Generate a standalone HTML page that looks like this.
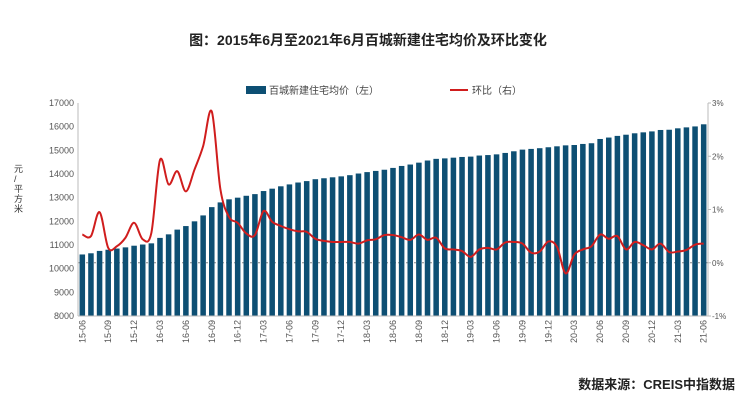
<!DOCTYPE html>
<html><head><meta charset="utf-8"><style>
body{margin:0;background:#fff;}
svg{display:block;font-family:"Liberation Sans","Noto Sans CJK SC",sans-serif;}
</style></head><body>
<svg id="chart" width="740" height="409" viewBox="0 0 740 409">
<text x="368" y="45" text-anchor="middle" font-size="14" font-weight="bold" fill="#222">图：2015年6月至2021年6月百城新建住宅均价及环比变化</text>
<g>
<rect x="246" y="86" width="20" height="8" fill="#0d4f73"/>
<text x="269" y="94" font-size="10" fill="#444">百城新建住宅均价（左）</text>
<line x1="450" y1="90" x2="468" y2="90" stroke="#d01d1d" stroke-width="2"/>
<text x="472" y="94" font-size="10" fill="#444">环比（右）</text>
</g>
<text font-size="9" fill="#333"><tspan x="14" y="172">元</tspan><tspan x="14" y="182">/</tspan><tspan x="14" y="192">平</tspan><tspan x="14" y="202">方</tspan><tspan x="14" y="212">米</tspan></text>
<g id="grid"></g><g id="bars"></g><g id="line"></g><g id="axes"></g>
<text x="735" y="389" text-anchor="end" font-size="13" font-weight="bold" fill="#222">数据来源：CREIS中指数据</text>
</svg>
<script>
const ns="http://www.w3.org/2000/svg";
const leftTicks=[8000,9000,10000,11000,12000,13000,14000,15000,16000,17000];
const rightTicks=[-1,0,1,2,3];
const rightTickLabels=["-1%","0%","1%","2%","3%"];
const prices=[10600,10650,10750,10800,10850,10900,10970,11020,11070,11300,11450,11650,11800,12000,12250,12600,12800,12930,13000,13080,13150,13280,13380,13480,13560,13640,13700,13780,13820,13860,13900,13950,14020,14080,14130,14180,
14257,14340,14400,14480,14570,14640,14660,14690,14720,14735,14780,14800,14830,14890,14960,15030,15060,15090,15130,15170,15210,15225,15270,15300,15480,15540,15610,15660,15720,15760,15800,15860,15870,15930,15970,16010,16100];
const mom=[0.53,0.5,0.95,0.28,0.31,0.47,0.75,0.44,0.56,1.93,1.47,1.72,1.34,1.75,2.19,2.84,1.38,0.86,0.75,0.55,0.52,0.97,0.77,0.69,0.63,0.59,0.58,0.45,0.41,0.39,0.39,0.39,0.36,0.42,0.44,0.52,
0.52,0.48,0.43,0.53,0.43,0.47,0.27,0.25,0.22,0.11,0.25,0.28,0.25,0.38,0.39,0.36,0.19,0.21,0.4,0.3,-0.2,0.15,0.25,0.31,0.53,0.45,0.5,0.25,0.39,0.33,0.25,0.36,0.2,0.21,0.24,0.34,0.36];
const startYear=2015,startMonth=6;
const X0=78,X1=708,Y0=316,Y1=103;
const n=prices.length;
const step=(X1-X0)/n;
const xc=i=>X0+step*(i+0.5);
const yL=v=>Y0-(v-8000)/9000*(Y0-Y1);
const yR=v=>Y0-(v+1)/4*(Y0-Y1);
function mk(tag,attrs,parent){const e=document.createElementNS(ns,tag);for(const k in attrs)e.setAttribute(k,attrs[k]);parent.appendChild(e);return e;}
const grid=document.getElementById('grid'),bars=document.getElementById('bars'),line=document.getElementById('line'),axes=document.getElementById('axes');
const zl=mk('line',{x1:X0,x2:X1,y1:yR(0),y2:yR(0),stroke:'#888','stroke-dasharray':'2,2','stroke-width':1},grid);


prices.forEach((v,i)=>{
  const r=mk('rect',{x:xc(i)-step*0.32,width:step*0.64,y:yL(v),height:Y0-yL(v),fill:'#0d4f73'},bars);
  
  
});
const pts=mom.map((v,i)=>[xc(i),yR(v)]);
let d='M'+pts[0][0]+','+pts[0][1];
for(let i=0;i<pts.length-1;i++){
  const p0=pts[Math.max(0,i-1)],p1=pts[i],p2=pts[i+1],p3=pts[Math.min(pts.length-1,i+2)];
  const t=6;
  d+=' C'+(p1[0]+(p2[0]-p0[0])/t)+','+(p1[1]+(p2[1]-p0[1])/t)+' '+(p2[0]-(p3[0]-p1[0])/t)+','+(p2[1]-(p3[1]-p1[1])/t)+' '+p2[0]+','+p2[1];
}
const pl=mk('path',{d:d,fill:'none',stroke:'#d01d1d','stroke-width':2},line);


mk('line',{x1:X0,x2:X0,y1:Y1,y2:Y0,stroke:'#bbb'},axes);
mk('line',{x1:X0,x2:X1,y1:Y0,y2:Y0,stroke:'#bbb'},axes);
mk('line',{x1:X1,x2:X1,y1:Y1,y2:Y0,stroke:'#bbb'},axes);
leftTicks.forEach(v=>{
  const t=mk('text',{x:X0-4,y:yL(v)+3,'text-anchor':'end','font-size':9,fill:'#555'},axes);
  t.textContent=v;
  
  
});
rightTicks.forEach((v,i)=>{
  mk('line',{x1:X1,x2:X1+3,y1:yR(v),y2:yR(v),stroke:'#bbb'},axes);
  const t=mk('text',{x:X1+4,y:yR(v)+3,'font-size':8,fill:'#555'},axes);
  t.textContent=rightTickLabels[i];
  
  
});
for(let i=0;i<n;i+=3){
  const m=(startMonth-1+i)%12+1, y=startYear+Math.floor((startMonth-1+i)/12);
  const lab=String(y%100)+'-'+String(m).padStart(2,'0');
  const x=xc(i);
  const t=mk('text',{x:0,y:0,'text-anchor':'end','font-size':9,fill:'#555',transform:'translate('+(x+3)+','+(Y0+4)+') rotate(-90)'},axes);
  t.textContent=lab;
  
  
}
</script>
</body></html>
